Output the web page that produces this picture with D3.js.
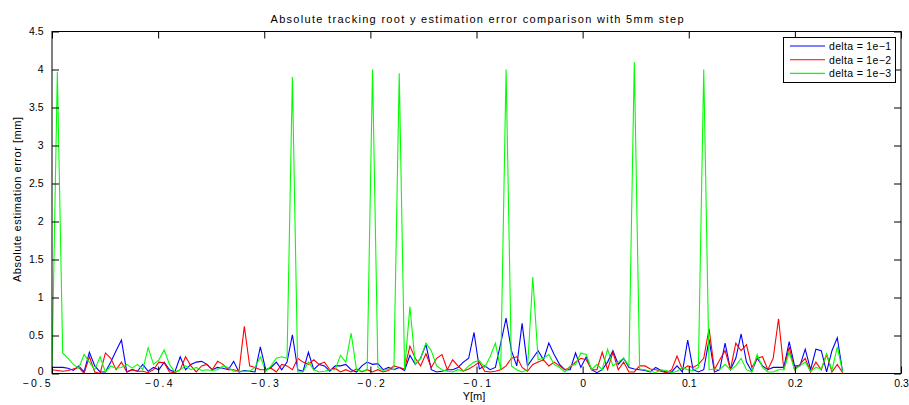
<!DOCTYPE html>
<html><head><meta charset="utf-8">
<script src="https://cdn.jsdelivr.net/npm/d3@7"></script>
<style>
body{margin:0;background:#fff;}
text{font-family:"Liberation Sans",Arial,Helvetica,sans-serif;}
</style></head>
<body><svg id="c" width="909" height="405"></svg>
<script>
const xStart = -0.5, xEnd = 0.245;
const seriesNames = ["delta = 1e\u22121","delta = 1e\u22122","delta = 1e\u22123"];
const seriesColors = ["#0000ff","#ff0000","#00ff00"];
const blue = [0.08,0.08,0.08,0.07,0.04,0.10,0.02,0.28,0.10,0.02,
0.02,0.15,0.30,0.44,0.02,0.05,0.03,0.12,0.03,0.08,
0.05,0.15,0.05,0.02,0.22,0.05,0.12,0.15,0.16,0.12,
0.05,0.08,0.07,0.05,0.16,0.02,0.04,0.03,0.02,0.35,
0.05,0.08,0.15,0.05,0.15,0.51,0.05,0.03,0.28,0.05,
0.12,0.10,0.03,0.10,0.10,0.12,0.05,0.02,0.10,0.15,
0.12,0.13,0.05,0.08,0.05,0.08,0.04,0.24,0.12,
0.20,0.38,0.05,0.02,0.03,0.05,0.05,0.08,0.15,0.20,
0.54,0.06,0.10,0.05,0.08,0.40,0.73,0.30,0.10,0.66,
0.10,0.20,0.30,0.18,0.40,0.25,0.12,0.05,0.05,0.27,
0.08,0.22,0.05,0.01,0.05,0.15,0.30,0.12,0.20,0.08,
0.06,0.05,0.04,0.02,0.08,0.04,0.02,0.02,0.10,0.02,
0.44,0.05,0.02,0.05,0.45,0.02,0.05,0.40,0.05,0.20,
0.52,0.15,0.03,0.20,0.10,0.05,0.08,0.08,0.08,0.42,
0.10,0.10,0.32,0.05,0.32,0.30,0.02,0.30,0.47,0.02];
const red = [0.05,0.04,0.03,0.04,0.06,0.08,0.00,0.22,0.02,0.00,
0.27,0.20,0.05,0.15,0.02,0.05,0.03,0.03,0.01,0.05,
0.15,0.14,0.02,0.01,0.05,0.22,0.10,0.02,0.10,0.12,
0.05,0.16,0.12,0.05,0.05,0.03,0.62,0.10,0.08,0.05,
0.05,0.07,0.02,0.12,0.10,0.05,0.20,0.15,0.12,0.18,
0.12,0.15,0.05,0.07,0.02,0.05,0.02,0.06,0.02,0.05,
0.02,0.05,0.02,0.04,0.10,0.08,0.06,0.36,0.20,
0.10,0.26,0.08,0.20,0.25,0.05,0.18,0.10,0.03,0.06,
0.10,0.15,0.03,0.02,0.03,0.05,0.10,0.20,0.22,0.08,
0.03,0.12,0.15,0.18,0.10,0.15,0.10,0.05,0.08,0.15,
0.20,0.18,0.05,0.05,0.28,0.05,0.28,0.05,0.15,0.02,
0.02,0.10,0.10,0.06,0.05,0.03,0.01,0.05,0.23,0.05,
0.10,0.08,0.12,0.20,0.59,0.05,0.18,0.30,0.05,0.40,
0.30,0.38,0.08,0.20,0.22,0.05,0.20,0.72,0.05,0.35,
0.05,0.12,0.20,0.02,0.15,0.05,0.25,0.02,0.12,0.01];
const green = [0.05,3.97,0.27,0.20,0.12,0.07,0.25,0.15,0.05,0.22,
0.02,0.10,0.07,0.08,0.12,0.07,0.12,0.05,0.34,0.12,
0.18,0.31,0.12,0.02,0.05,0.10,0.05,0.08,0.04,0.05,
0.04,0.05,0.10,0.08,0.03,0.03,0.03,0.03,0.08,0.22,
0.03,0.10,0.20,0.22,0.20,3.90,0.02,0.02,0.15,0.05,
0.02,0.03,0.05,0.05,0.24,0.15,0.53,0.05,0.03,0.05,
4.00,0.08,0.04,0.06,0.05,3.95,0.05,0.88,0.12,
0.20,0.40,0.30,0.10,0.05,0.03,0.02,0.05,0.03,0.10,
0.15,0.17,0.08,0.22,0.40,0.05,4.00,0.10,0.05,0.02,
0.05,1.27,0.18,0.20,0.25,0.12,0.08,0.02,0.10,0.12,
0.27,0.25,0.05,0.12,0.05,0.32,0.10,0.15,0.20,0.10,
4.10,0.06,0.05,0.03,0.01,0.05,0.04,0.01,0.03,0.08,
0.05,0.04,0.08,4.00,0.05,0.06,0.05,0.12,0.05,0.10,
0.20,0.05,0.02,0.25,0.08,0.02,0.02,0.05,0.05,0.28,
0.05,0.10,0.15,0.03,0.08,0.06,0.26,0.04,0.35,0.02];
const xTicks = [-0.5,-0.4,-0.3,-0.2,-0.1,0,0.1,0.2,0.3];
const yTicks = [0,0.5,1,1.5,2,2.5,3,3.5,4,4.5];
const title = "Absolute tracking root y estimation error comparison with 5mm step";
const xLabel = "Y[m]";
const yLabel = "Absolute estimation error [mm]";

const L=52, R=901, T=31.5, B=373.5;
const svg = d3.select("#c");
const x = d3.scaleLinear().domain([-0.5,0.3]).range([L,R]);
const y = d3.scaleLinear().domain([0,4.5]).range([B,T]);
const n = blue.length;
const idx = d3.scaleLinear().domain([0,n-1]).range([xStart,xEnd]);

svg.append("defs").append("clipPath").attr("id","clip")
  .append("rect").attr("x",L).attr("y",T).attr("width",R-L).attr("height",B-T);

const allSeries = [blue, red, green];
const line = d3.line().x((d,i)=>x(idx(i))).y(d=>y(d));
const g = svg.append("g").attr("clip-path","url(#clip)");
allSeries.forEach((s,si)=>{
  g.append("path").datum(s).attr("d",line).attr("fill","none")
   .attr("stroke",seriesColors[si]).attr("stroke-width",1.1).attr("stroke-linejoin","miter");
});

// axes
const tl = 7;
const ax = svg.append("g");
const xb = ax.append("g").attr("transform",`translate(0,${B})`)
  .call(d3.axisBottom(x).tickValues(xTicks).tickSize(-tl).tickPadding(6.5)
    .tickFormat(d => (d<0?"\u2212":"") + d3.format("")(Math.abs(d))));
ax.append("g").attr("transform",`translate(0,${T})`)
  .call(d3.axisTop(x).tickValues(xTicks).tickSize(-tl).tickFormat(""));
const yl = ax.append("g").attr("transform",`translate(${L},0)`)
  .call(d3.axisLeft(y).tickValues(yTicks).tickSize(-tl).tickPadding(8.5).tickFormat(d3.format("")));
ax.append("g").attr("transform",`translate(${R},0)`)
  .call(d3.axisRight(y).tickValues(yTicks).tickSize(-tl).tickFormat(""));
ax.selectAll(".domain").remove();
ax.selectAll(".tick line").attr("stroke","#000").attr("stroke-width",1);
ax.selectAll(".tick text").attr("font-size",10.5).attr("fill","#000")
  .attr("font-family","Liberation Sans,Arial,sans-serif");
// reference draws a wide minus: widen negative labels
xb.selectAll(".tick text").filter(d=>d<0)
  .attr("textLength",28).attr("lengthAdjust","spacing");
xb.selectAll(".tick").filter(d=>d===-0.5).select("text")
  .attr("text-anchor","end").attr("dx",-2);
yl.selectAll(".tick").filter(d=>d===0).select("text").attr("dy","0.1em");
svg.append("rect").attr("x",L).attr("y",T).attr("width",R-L).attr("height",B-T)
  .attr("fill","none").attr("stroke","#000").attr("stroke-width",1);

svg.append("text").attr("x",477).attr("y",23).attr("text-anchor","middle")
  .attr("font-size",11).attr("textLength",413).attr("lengthAdjust","spacing").text(title);
svg.append("text").attr("x",474).attr("y",400).attr("text-anchor","middle")
  .attr("font-size",11).text(xLabel);
svg.append("text").attr("transform",`translate(21,${199.5}) rotate(-90)`)
  .attr("text-anchor","middle").attr("font-size",11).attr("textLength",165)
  .attr("lengthAdjust","spacing").text(yLabel);

// legend
const lg = svg.append("g");
lg.append("rect").attr("x",783.5).attr("y",37.5).attr("width",112).attr("height",45)
  .attr("fill","#fff").attr("stroke","#000").attr("stroke-width",1);
seriesNames.forEach((nm,i)=>{
  const yy = 46 + i*13.7;
  lg.append("line").attr("x1",790).attr("x2",825).attr("y1",yy).attr("y2",yy)
    .attr("stroke",seriesColors[i]).attr("stroke-width",1.1);
  lg.append("text").attr("x",829).attr("y",yy+3.8).attr("font-size",10.5)
    .attr("textLength",62).attr("lengthAdjust","spacing").text(nm);
});
</script></body></html>
